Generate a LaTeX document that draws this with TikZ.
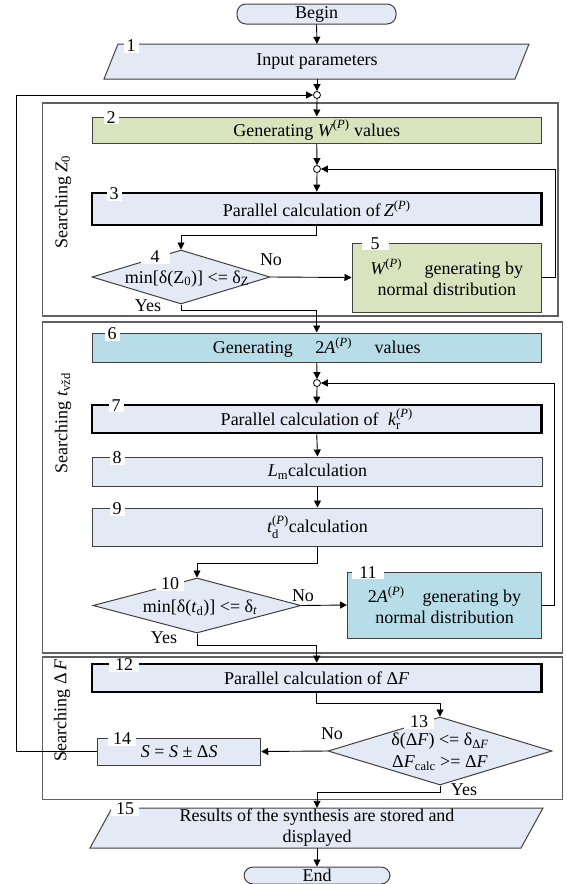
\documentclass[tikz,border=0pt]{standalone}
\usepackage{amsmath}
\usepackage{fontspec}
\setmainfont{Liberation Serif}
\usetikzlibrary{shapes.geometric,arrows.meta,calc}
\definecolor{fgreen}{HTML}{D7E4BD}
\definecolor{fblue}{HTML}{E3EAF5}
\definecolor{fcyan}{HTML}{B7DEE8}
\definecolor{bgray}{HTML}{404040}
\definecolor{ggray}{HTML}{606060}
\newcommand{\Pp}{\textrm{(}\textit{P}\textrm{)}}
\begin{document}
\begin{tikzpicture}[x=1pt,y=-1pt,
  every node/.style={font=\fontsize{18}{21}\selectfont, inner sep=0pt},
  proc/.style={draw=bgray, line width=1pt, rectangle, align=center},
  thickproc/.style={draw=black, line width=2.6pt, rectangle, align=center},
  dec/.style={draw=bgray, line width=1pt, diamond, fill=fblue, align=center},
  term/.style={draw=bgray, line width=1pt, rounded corners=9pt, fill=fblue, minimum height=20pt},
  group/.style={draw=ggray, line width=1.2pt},
  num/.style={fill=white, inner xsep=3pt, inner ysep=1pt},
  junc/.style={circle, draw=black, fill=white, line width=0.8pt, minimum size=7pt},
  conn/.style={draw=black, line width=0.9pt},
  arr/.style={conn, -{Triangle[length=7pt,width=7pt]}},
  par/.style={draw=bgray, line width=1pt, fill=fblue},
]
\useasboundingbox (0,0) rectangle (566,884);

% group boxes
\draw[group] (42.5,103) rectangle (558,316);
\draw[group] (42.5,322) rectangle (562.5,653);
\draw[group] (42.5,657) rectangle (562.5,799.5);

\node[rotate=90] (gl1) at (63,202) {Searching $\textit{Z}_{\textrm{0}}$};
\node[rotate=90] (gl2) at (63,423) {Searching $\textit{t}_{\textrm{vžd}}$};
\node[rotate=90] (gl3) at (62,710) {Searching Δ\,\textit{F}};

% terminals
\node[term, minimum width=159pt] (begin) at (316.5,14) {Begin};
\node[term, minimum width=146pt, minimum height=17pt] (end) at (317,875.5) {End};

% parallelogram 1
\draw[par] (104,79) -- (118,44) -- (529,44) -- (515,79) -- cycle;
\node[minimum width=400pt, minimum height=35pt] (p1) at (317,61.5) {Input parameters};
\node[num] (n1) at (131,46) {1};

% junctions
\node[junc] (j1) at (317,95) {};
\node[junc] (j2) at (317,169) {};
\node[junc] (j3) at (317,383) {};

% group 1
\node[proc, fill=fgreen, minimum width=449.5pt, minimum height=26pt] (b2) at (316.75,130) {Generating $\textit{W}^{\Pp}$ values};
\node[num] (n2) at (111,117.5) {2};
\node[thickproc, fill=fblue, minimum width=449.5pt, minimum height=32pt] (b3) at (316.75,209) {Parallel calculation of\,$\textit{Z}^{\Pp}$};
\node[num] (n3) at (114,193.5) {3};
\node[dec, minimum width=178pt, minimum height=54pt] (d4) at (181,277) {};
\node (t4) at (187,279) {min[δ(Z$_{\textrm{0}}$)] <= δ$_{\textrm{Z}}$};
\node[num, inner xsep=10pt] (n4) at (155,257) {4};
\node[proc, fill=fgreen, minimum width=189.5pt, minimum height=69pt] (b5) at (446.75,277.5) {$\textit{W}^{\Pp}$\quad\ generating by\\normal distribution};
\node[num, inner xsep=9pt] (n5) at (375,243.5) {5};

% group 2
\node[proc, fill=fcyan, minimum width=449.5pt, minimum height=29pt] (b6) at (316.75,347.5) {Generating\quad\ $\textrm{2}\textit{A}^{\Pp}$\quad\ values};
\node[num] (n6) at (112,333.5) {6};
\node[thickproc, fill=fblue, minimum width=449.5pt, minimum height=28pt] (b7) at (316.75,419) {Parallel calculation of\; $\textit{k}^{\Pp}_{\textrm{r}}$};
\node[num] (n7) at (116,405.5) {7};
\node[proc, fill=fblue, minimum width=449.5pt, minimum height=29pt] (b8) at (317.5,471.5) {$\textit{L}_{\textrm{m}}$calculation};
\node[num] (n8) at (117,457.5) {8};
\node[proc, fill=fblue, minimum width=449.5pt, minimum height=38pt] (b9) at (317.5,527) {$\textit{t}^{\Pp}_{\textrm{d}}$calculation};
\node[num] (n9) at (117,508.5) {9};
\node[dec, minimum width=208pt, minimum height=55pt] (d10) at (197,605.5) {};
\node (t10) at (200,608) {min[δ(\textit{t}$_{\textrm{d}}$)] <= δ$_{\textit{t}}$};
\node[num, inner xsep=5pt] (n10) at (170,584) {10};
\node[proc, fill=fcyan, minimum width=194pt, minimum height=66pt] (b11) at (444.5,605) {$\textrm{2}\textit{A}^{\Pp}$\quad generating by\\normal distribution};
\node[num, inner xsep=7pt] (n11) at (368,572.5) {11};

% group 3
\node[thickproc, fill=fblue, minimum width=449.5pt, minimum height=28pt] (b12) at (316.75,678) {Parallel calculation of Δ\textit{F}};
\node[num, inner xsep=6pt] (n12) at (124,665) {12};
\node[dec, minimum width=224pt, minimum height=68pt] (d13) at (440,751) {};
\node[align=center] (t13) at (440,752) {δ(Δ\textit{F}) <= δ$_{\textrm{Δ}\textit{F}}$\\[1pt]Δ\textit{F}$_{\textrm{calc}}$ >= Δ\textit{F}};
\node[num, inner xsep=6pt] (n13) at (419,722) {13};
\node[proc, fill=fblue, minimum width=163pt, minimum height=27pt] (b14) at (179.25,751.5) {\textit{S} = \textit{S} ± Δ\textit{S}};
\node[num, inner xsep=5pt] (n14) at (122,739) {14};

% parallelogram 15
\draw[par] (90,848) -- (112,808) -- (543,808) -- (521,848) -- cycle;
\node[align=center, minimum width=400pt, minimum height=40pt] (p15) at (317,828) {Results of the synthesis are stored and\\displayed};
\node[num, inner xsep=5pt] (n15) at (125,809) {15};

% yes/no labels
\node (no4) at (271,260) {No};
\node (yes4) at (148,306) {Yes};
\node (no10) at (303,596) {No};
\node (yes10) at (164,638) {Yes};
\node (no13) at (332,734) {No};
\node (yes13) at (464,790) {Yes};

% connectors
\draw[arr] (begin.south) -- (p1.north);
\draw[arr] (p1.south) -- (j1.north);
\draw[arr] (j1.south) -- (b2.north);
\draw[arr] (b2.south) -- (j2.north);
\draw[arr] (j2.south) -- (b3.north);
\draw[arr] (b3.south) -- ++(0,9) -| (d4.north);
\draw[arr] (d4.east) -- (b5.west);
\draw[arr] (b5.east) -- ++(13.5,0) |- (j2.east);
\draw[arr] (d4.south) -- ++(0,6) -| (b6.north);
\draw[arr] (b6.south) -- (j3.north);
\draw[arr] (j3.south) -- (b7.north);
\draw[arr] (b7.south) -- (b8.north);
\draw[arr] (b8.south) -- (b9.north);
\draw[arr] (b9.south) -- ++(0,17) -| (d10.north);
\draw[arr] (d10.east) -- (b11.west);
\draw[arr] (b11.east) -- ++(12,0) |- (j3.east);
\draw[arr] (d10.south) -- ++(0,12) -| (b12.north);
\draw[arr] (b12.south) -- ++(0,10) -| (d13.north);
\draw[arr] (d13.west) -- (b14.east);
\coordinate (lp) at (16,751.5);
\draw[arr] (b14.west) -- (lp) |- (j1.west);
\draw[arr] (d13.south) -- ++(0,7) -| (p15.north);
\draw[arr] (p15.south) -- (end.north);
\end{tikzpicture}
\end{document}
